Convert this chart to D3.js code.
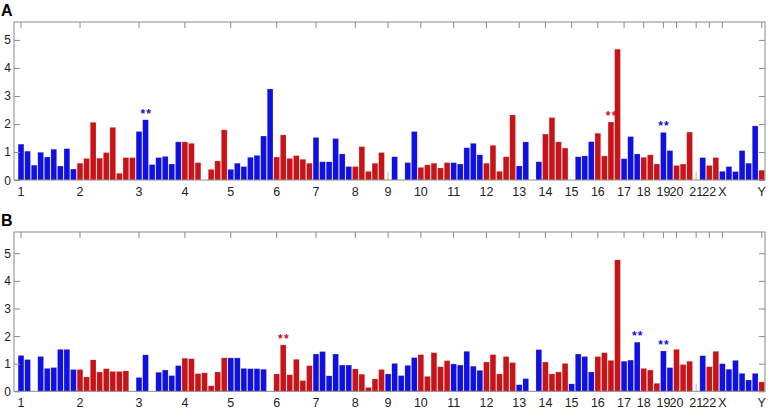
<!DOCTYPE html>
<html>
<head>
<meta charset="utf-8">
<script src="https://cdn.jsdelivr.net/npm/d3@7"></script>
<style>
  body { margin: 0; background: #fff; }
  text { font-family: "Liberation Sans", Arial, Helvetica, sans-serif; }
</style>
</head>
<body>
<script>
const width = 769;
const height = 409;

const chroms = ["1","2","3","4","5","6","7","8","9","10","11","12","13","14","15","16","17","18","19","20","21","22","X","Y"];

// one array per chromosome, null = empty slot
const valuesA = [
  [1.28, 1.03, 0.53, 0.99, 0.82, 1.1, 0.5, 1.12, 0.39],
  [0.6, 0.77, 2.06, 0.78, 0.98, 1.88, 0.24, 0.8, 0.8],
  [1.73, 2.15, 0.55, 0.8, 0.84, 0.57, 1.36],
  [1.36, 1.31, 0.62, null, 0.38, 0.68, 1.79],
  [0.38, 0.6, 0.48, 0.81, 0.88, 1.57, 3.25],
  [0.82, 1.61, 0.77, 0.87, 0.74, 0.6],
  [1.52, 0.65, 0.65, 1.48, 0.93, 0.48],
  [0.48, 1.19, 0.31, 0.6, 0.98],
  [null, 0.83, null, 0.62, 1.73],
  [0.45, 0.54, 0.6, 0.43, 0.62],
  [0.62, 0.57, 1.15, 1.31, 0.9],
  [0.6, 1.24, 0.31, 0.83, 2.32],
  [0.5, 1.36, null, 0.65],
  [1.64, 2.23, 1.36, 1.14],
  [null, 0.83, 0.86, 1.37],
  [1.67, 0.86, 2.07, 4.67],
  [0.76, 1.55, 0.93],
  [0.81, 0.9, 0.57],
  [1.7, 1.05],
  [0.52, 0.57, 1.71],
  [null, 0.8],
  [0.52, 0.8],
  [0.31, 0.48, 0.3, 1.05, 0.6, 1.93],
  [0.35]
];

const valuesB = [
  [1.3, 1.15, null, 1.26, 0.83, 0.86, 1.52, 1.52, 0.79],
  [0.79, 0.52, 1.14, 0.7, 0.82, 0.72, 0.72, 0.74, null],
  [0.5, 1.32, null, 0.69, 0.77, 0.57, 0.93],
  [1.2, 1.18, 0.64, 0.67, 0.2, 0.7, 1.21],
  [1.21, 1.21, 0.83, 0.82, 0.82, 0.8, null],
  [0.63, 1.68, 0.6, 1.16, 0.39, 0.93],
  [1.35, 1.44, 0.56, 1.35, 0.95, 0.95],
  [0.81, 0.62, 0.14, 0.45, 0.79],
  [0.63, 1.01, 0.57, 0.94, 1.22],
  [1.33, 0.54, 1.4, 0.89, 1.11],
  [0.99, 0.95, 1.45, 0.91, 0.76],
  [1.06, 1.33, 0.63, 1.26, 1.04],
  [0.24, 0.46, null, 1.51],
  [1.06, 0.63, 0.7, 1.01],
  [0.27, 1.35, 1.26, 0.7],
  [1.26, 1.4, 1.12, 4.76],
  [1.09, 1.13, 1.78],
  [0.83, 0.77, 0.29],
  [1.46, 0.86],
  [1.52, 0.97, 1.09],
  [null, 1.29],
  [0.89, 1.45],
  [1.0, 0.8, 1.12, 0.65, 0.41, 0.65],
  [0.34]
];

// thin grey marks in empty slots
const thinA = [{ chrom: "9", pos: 0, value: 0.28 }, { chrom: "21", pos: 0, value: 0.28 }];
const thinB = [{ chrom: "21", pos: 0, value: 0.28 }];

// significance stars
const starsA = [{ chrom: "3", pos: 1 }, { chrom: "16", pos: 2 }, { chrom: "19", pos: 0 }];
const starsB = [{ chrom: "6", pos: 1 }, { chrom: "17", pos: 2 }, { chrom: "19", pos: 0 }];

const yTicks = [0, 1, 2, 3, 4, 5];

const blue = "#1010e0";
const red = "#c81418";
const frame = "#8a8a8a";

// slot index of the first bar of each chromosome
const starts = [];
let n = 0;
valuesA.forEach((arr) => { starts.push(n); n += arr.length; });
const nSlots = n;

const x = d3.scaleLinear().domain([-1.07, nSlots - 0.5]).range([14, 765]);
const step = x(1) - x(0);

const colorOf = (ci) => (ci % 2 === 0 ? blue : red);

const svg = d3.select("body").append("svg")
  .attr("width", width)
  .attr("height", height);

const panels = [
  { label: "A", values: valuesA, thin: thinA, stars: starsA, top: 22, zero: 180, ymax: 5.64 },
  { label: "B", values: valuesB, thin: thinB, stars: starsB, top: 232, zero: 391.3, ymax: 5.77 }
];

panels.forEach((p) => {
  const y = d3.scaleLinear().domain([0, p.ymax]).range([p.zero, p.top]);
  const g = svg.append("g");

  const bars = [];
  p.values.forEach((arr, ci) => {
    arr.forEach((v, j) => {
      if (v !== null) bars.push({ i: starts[ci] + j, v, ci });
    });
  });

  g.append("g").selectAll("rect").data(bars).join("rect")
    .attr("x", (d) => x(d.i) - step / 2 + 0.4)
    .attr("width", step - 0.8)
    .attr("y", (d) => y(d.v))
    .attr("height", (d) => y(0) - y(d.v))
    .attr("fill", (d) => colorOf(d.ci))
    .attr("stroke", "rgba(255,255,255,0.35)")
    .attr("stroke-width", 0.5);

  g.append("g").selectAll("line").data(p.thin).join("line")
    .attr("x1", (d) => x(starts[chroms.indexOf(d.chrom)] + d.pos))
    .attr("x2", (d) => x(starts[chroms.indexOf(d.chrom)] + d.pos))
    .attr("y1", y(0))
    .attr("y2", (d) => y(d.value))
    .attr("stroke", "#b8b8b8")
    .attr("stroke-width", 1);

  // frame
  g.append("rect")
    .attr("x", x.range()[0])
    .attr("y", p.top)
    .attr("width", x.range()[1] - x.range()[0])
    .attr("height", p.zero - p.top)
    .attr("fill", "none")
    .attr("stroke", frame)
    .attr("stroke-width", 1);

  // left and right inner ticks
  const yAxisL = d3.axisRight(y).tickValues(yTicks).tickSize(6).tickFormat("");
  g.append("g").attr("transform", `translate(${x.range()[0]},0)`).call(yAxisL)
    .call((s) => s.select(".domain").remove())
    .call((s) => s.selectAll("line").attr("stroke", frame));
  const yAxisR = d3.axisLeft(y).tickValues(yTicks).tickSize(6).tickFormat("");
  g.append("g").attr("transform", `translate(${x.range()[1]},0)`).call(yAxisR)
    .call((s) => s.select(".domain").remove())
    .call((s) => s.selectAll("line").attr("stroke", frame));

  // y labels
  g.append("g").selectAll("text").data(yTicks).join("text")
    .attr("x", 11)
    .attr("y", (d) => y(d) + 4.5)
    .attr("text-anchor", "end")
    .attr("font-size", 12)
    .attr("fill", "#222")
    .text((d) => d);

  // top ticks at chromosome starts
  g.append("g").selectAll("line").data(starts).join("line")
    .attr("x1", (d) => x(d)).attr("x2", (d) => x(d))
    .attr("y1", p.top).attr("y2", p.top + 6)
    .attr("stroke", frame);

  // x labels
  g.append("g").selectAll("text").data(chroms).join("text")
    .attr("x", (d, ci) => x(starts[ci]))
    .attr("y", p.zero + 16)
    .attr("text-anchor", "middle")
    .attr("font-size", 12.5)
    .attr("fill", "#222")
    .text((d) => d);

  // stars
  g.append("g").selectAll("text").data(p.stars).join("text")
    .attr("x", (d) => x(starts[chroms.indexOf(d.chrom)] + d.pos) + 0.7)
    .attr("y", (d) => {
      const ci = chroms.indexOf(d.chrom);
      return y(p.values[ci][d.pos]) - 2;
    })
    .attr("text-anchor", "middle")
    .attr("font-size", 12)
    .attr("font-weight", "bold")
    .attr("letter-spacing", 1.2)
    .attr("fill", (d) => colorOf(chroms.indexOf(d.chrom)))
    .text("**");

  // panel letter
  g.append("text")
    .attr("x", 1)
    .attr("y", p.top - 6)
    .attr("font-size", 16)
    .attr("font-weight", "bold")
    .attr("fill", "#000")
    .text(p.label);
});
</script>
</body>
</html>
